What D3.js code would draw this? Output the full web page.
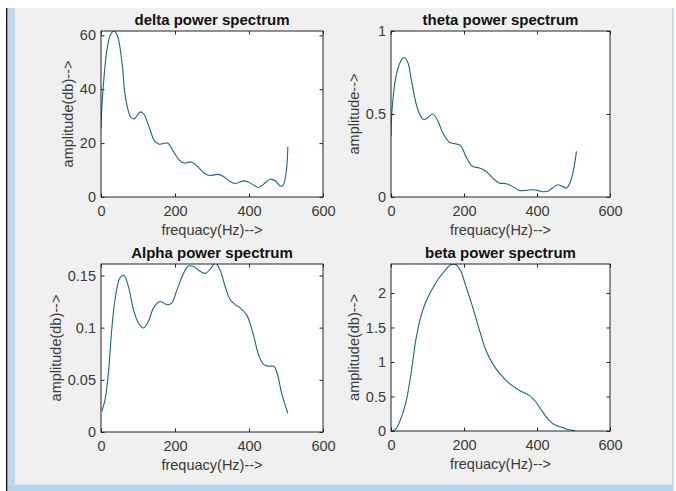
<!DOCTYPE html>
<html>
<head>
<meta charset="utf-8">
<title>power spectrum</title>
<style>
  * { margin: 0; padding: 0; }
  body { width: 676px; height: 491px; background: #fff; overflow: hidden; }
  svg { display: block; font-family: "Liberation Sans", Arial, sans-serif; }
</style>
</head>
<body>
<svg id="fig" width="676" height="491"></svg>
<script src="https://cdn.jsdelivr.net/npm/d3@7"></script>
<script>
// values
const freqTicks = [0, 200, 400, 600];

const deltaFreq = [0, 3, 16, 25, 35, 44, 57, 66, 80, 89, 107, 116, 130, 144, 157, 180, 194, 212, 225, 244, 262, 280, 294, 316, 330, 348, 362, 385, 398, 416, 425, 439, 457, 471, 485, 492, 501, 505];
const deltaAmp = [25.4, 35, 54.5, 60, 61.6, 60, 49.6, 37, 29.7, 29, 31.6, 30.7, 26, 21, 19.6, 20, 17.3, 13.6, 12.6, 13, 11.2, 8.7, 8, 8.4, 7.7, 5.8, 5, 6, 5.6, 4.1, 3.5, 4.7, 6.6, 6, 4, 4.3, 9.9, 18.6];
const deltaTicks = [0, 20, 40, 60];

const thetaFreq = [0, 3, 14, 27, 36, 46, 57, 73, 87, 96, 114, 128, 141, 160, 178, 191, 205, 223, 242, 260, 278, 296, 315, 333, 351, 369, 388, 401, 415, 429, 442, 456, 470, 481, 492, 502, 508];
const thetaAmp = [0.366, 0.53, 0.73, 0.82, 0.84, 0.81, 0.69, 0.53, 0.47, 0.47, 0.5, 0.46, 0.39, 0.33, 0.32, 0.31, 0.245, 0.185, 0.175, 0.155, 0.115, 0.085, 0.08, 0.064, 0.04, 0.04, 0.044, 0.04, 0.032, 0.034, 0.054, 0.074, 0.064, 0.054, 0.095, 0.185, 0.275];
const thetaTicks = [0, 0.5, 1];

const alphaFreq = [2, 11, 20, 29, 38, 51, 62, 74, 88, 101, 115, 128, 142, 160, 178, 191, 205, 223, 236, 250, 268, 282, 295, 309, 322, 336, 349, 363, 376, 394, 412, 426, 440, 453, 467, 476, 489, 505];
const alphaAmp = [0.0198, 0.031, 0.0565, 0.098, 0.127, 0.1475, 0.15, 0.1395, 0.117, 0.1044, 0.0996, 0.106, 0.119, 0.125, 0.122, 0.1235, 0.136, 0.152, 0.159, 0.1585, 0.154, 0.152, 0.156, 0.162, 0.155, 0.139, 0.127, 0.122, 0.119, 0.112, 0.093, 0.074, 0.0645, 0.063, 0.063, 0.0565, 0.036, 0.018];
const alphaTicks = [0, 0.05, 0.1, 0.15];

const betaFreq = [3, 14, 27, 41, 55, 68, 82, 96, 114, 132, 150, 164, 178, 191, 205, 223, 242, 260, 278, 296, 324, 351, 378, 397, 415, 433, 451, 470, 488, 504];
const betaAmp = [0, 0.034, 0.18, 0.42, 0.835, 1.32, 1.66, 1.88, 2.07, 2.22, 2.34, 2.41, 2.41, 2.32, 2.1, 1.81, 1.47, 1.17, 0.98, 0.845, 0.69, 0.59, 0.52, 0.42, 0.28, 0.155, 0.083, 0.049, 0.019, 0.005];
const betaTicks = [0, 0.5, 1, 1.5, 2];

const panels = [
  { title: "delta power spectrum", ylabel: "amplitude(db)-->", f: deltaFreq, a: deltaAmp, yTicks: deltaTicks, yMax: 61.6,
    x: 101, y: 31, w: 222, h: 166 },
  { title: "theta power spectrum", ylabel: "amplitude-->", f: thetaFreq, a: thetaAmp, yTicks: thetaTicks, yMax: 1,
    x: 391, y: 31, w: 219, h: 166 },
  { title: "Alpha power spectrum", ylabel: "amplitude(db)-->", f: alphaFreq, a: alphaAmp, yTicks: alphaTicks, yMax: 0.161,
    x: 101, y: 264, w: 222, h: 168 },
  { title: "beta power spectrum", ylabel: "amplitude(db)-->", f: betaFreq, a: betaAmp, yTicks: betaTicks, yMax: 2.42,
    x: 391, y: 264, w: 219, h: 167 }
];

const svg = d3.select("#fig");
const axisColor = "#262626";
const textColor = "#3a3a3a";
const lineColor = "#1d6387";
const fs = "14.5px";

// window frame around the figure
svg.append("rect").attr("x", 7).attr("y", 8).attr("width", 666).attr("height", 483).attr("fill", "#f0f0f0");
svg.append("rect").attr("x", 7).attr("y", 8).attr("width", 8).attr("height", 483).attr("fill", "#c3d9ed");
svg.append("rect").attr("x", 7).attr("y", 485).attr("width", 666).attr("height", 6).attr("fill", "#b9d3ec");
svg.append("rect").attr("x", 15).attr("y", 483).attr("width", 657).attr("height", 2).attr("fill", "#dfeaf5");
svg.append("rect").attr("x", 672).attr("y", 8).attr("width", 2).attr("height", 483).attr("fill", "#c5dcef");
svg.append("rect").attr("x", 6).attr("y", 8).attr("width", 1.3).attr("height", 483).attr("fill", "#111");

const fmt = d3.format("~g");

panels.forEach((p, i) => {
  const xs = d3.scaleLinear().domain([0, 600]).range([p.x, p.x + p.w]);
  const ys = d3.scaleLinear().domain([0, p.yMax]).range([p.y + p.h, p.y]);
  const g = svg.append("g");

  g.append("rect").attr("x", p.x).attr("y", p.y).attr("width", p.w).attr("height", p.h).attr("fill", "#fff");

  g.append("clipPath").attr("id", "clip" + i)
    .append("rect").attr("x", p.x).attr("y", p.y).attr("width", p.w).attr("height", p.h);

  const line = d3.line()
    .x(d => xs(d[0]))
    .y(d => ys(d[1]))
    .curve(d3.curveCatmullRom.alpha(0.5));
  g.append("path")
    .attr("clip-path", `url(#clip${i})`)
    .attr("d", line(d3.zip(p.f, p.a)))
    .attr("fill", "none")
    .attr("stroke", lineColor)
    .attr("stroke-width", 1.1);

  // axes: ticks inward on all four sides, box on
  const tk = 3.5;
  const bottom = d3.axisBottom(xs).tickValues(freqTicks).tickSizeInner(-tk).tickSizeOuter(0).tickPadding(9).tickFormat(fmt);
  const top = d3.axisTop(xs).tickValues(freqTicks).tickSizeInner(-tk).tickSizeOuter(0).tickFormat("");
  const left = d3.axisLeft(ys).tickValues(p.yTicks).tickSizeInner(-tk).tickSizeOuter(0).tickPadding(5).tickFormat(fmt);
  const right = d3.axisRight(ys).tickValues(p.yTicks).tickSizeInner(-tk).tickSizeOuter(0).tickFormat("");

  g.append("g").attr("transform", `translate(0,${p.y + p.h})`).call(bottom);
  g.append("g").attr("transform", `translate(0,${p.y})`).call(top);
  const gl = g.append("g").attr("transform", `translate(${p.x},0)`).call(left);
  g.append("g").attr("transform", `translate(${p.x + p.w},0)`).call(right);

  g.selectAll(".domain").remove();
  g.selectAll(".tick line").attr("stroke", axisColor);
  g.selectAll("g").attr("font-family", null).attr("font-size", null);
  g.selectAll(".tick text").attr("fill", textColor).style("font-size", fs);

  g.append("rect").attr("x", p.x).attr("y", p.y).attr("width", p.w).attr("height", p.h)
    .attr("fill", "none").attr("stroke", axisColor).attr("stroke-width", 1);

  // title
  g.append("text")
    .attr("x", p.x + p.w / 2).attr("y", p.y - 6)
    .attr("text-anchor", "middle")
    .style("font-size", "15px").style("font-weight", "bold")
    .attr("fill", "#111")
    .text(p.title);

  // x label
  g.append("text")
    .attr("x", p.x + p.w / 2).attr("y", p.y + p.h + 38)
    .attr("text-anchor", "middle")
    .style("font-size", fs)
    .attr("fill", textColor)
    .text("frequacy(Hz)-->");

  // y label, placed left of the widest tick label
  let maxW = 0;
  gl.selectAll(".tick text").each(function () { maxW = Math.max(maxW, this.getComputedTextLength()); });
  const cx = p.x - 5 - maxW - 12;
  g.append("text")
    .attr("transform", `translate(${cx},${p.y + p.h / 2}) rotate(-90)`)
    .attr("text-anchor", "middle")
    .attr("dy", "0.35em")
    .style("font-size", fs)
    .attr("fill", textColor)
    .text(p.ylabel);
});
</script>
</body>
</html>
